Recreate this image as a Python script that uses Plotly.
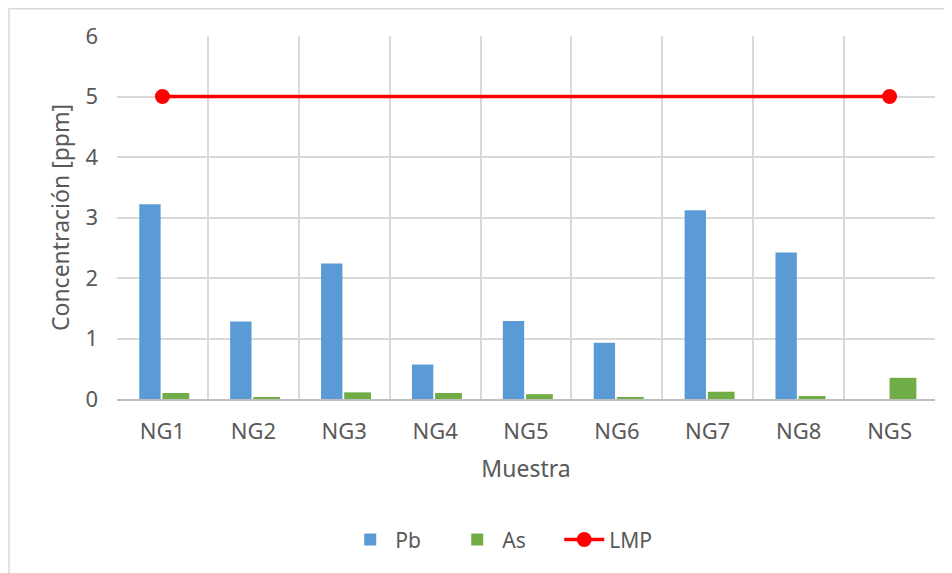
import plotly.graph_objects as go

categories = ["NG1", "NG2", "NG3", "NG4", "NG5", "NG6", "NG7", "NG8", "NGS"]
pb_values = [3.22, 1.28, 2.24, 0.57, 1.29, 0.93, 3.12, 2.42, 0.0]
as_values = [0.10, 0.02, 0.11, 0.10, 0.08, 0.03, 0.12, 0.05, 0.35]
lmp_x = ["NG1", "NGS"]
lmp_values = [5, 5]
y_ticks = [0, 1, 2, 3, 4, 5, 6]

FONT = "Noto Sans"
TXT = "#595959"
GRID = "#d9d9d9"

fig = go.Figure()
fig.add_trace(go.Bar(
    x=categories, y=pb_values, name="Pb",
    marker=dict(color="#5B9BD5", line=dict(width=0)),
    offset=-0.255, width=0.235,
))
fig.add_trace(go.Bar(
    x=categories, y=as_values, name="As",
    marker=dict(color="#70AD47", line=dict(width=0)),
    offset=0.0, width=0.295,
))
fig.add_trace(go.Scatter(
    x=lmp_x, y=lmp_values, name="LMP", mode="lines+markers",
    line=dict(color="#FF0000", width=3.5),
    marker=dict(color="#FF0000", size=15),
))

fig.update_layout(
    width=944, height=565,
    margin=dict(l=109, r=17, t=28, b=174),
    paper_bgcolor="white", plot_bgcolor="white",
    barmode="overlay",
    font=dict(family=FONT, size=22, color=TXT),
    showlegend=True,
    legend=dict(orientation="h", x=0.279, xanchor="left", y=-0.388, yanchor="middle",
                font=dict(size=21, color=TXT), traceorder="normal", itemwidth=40,
                entrywidth=52, entrywidthmode="pixels"),
    xaxis=dict(
        categoryorder="array", categoryarray=categories,
        tickson="boundaries", showgrid=True, gridcolor=GRID, gridwidth=1.5,
        showline=True, linecolor="#bfbfbf", linewidth=1.5,
        ticks="", ticklen=0, range=[-0.5, 8.5], ticklabelstandoff=12,
        title=dict(text="Muestra", font=dict(size=23, color=TXT), standoff=17),
        tickfont=dict(size=22, color=TXT),
    ),
    yaxis=dict(
        range=[0, 6], tickvals=y_ticks, showgrid=True, gridcolor=GRID, gridwidth=1.5,
        zeroline=False, showline=False, ticks="", ticklabelstandoff=18,
        title=dict(text="Concentración [ppm]", font=dict(size=23, color=TXT), standoff=9),
        tickfont=dict(size=22, color=TXT),
    ),
    shapes=[dict(type="rect", xref="paper", yref="paper",
                 x0=-0.132, x1=1.2, y0=-1.0, y1=1.075,
                 line=dict(color=GRID, width=1.5), fillcolor="rgba(0,0,0,0)", layer="below")],
)

fig.write_html("out.html")
